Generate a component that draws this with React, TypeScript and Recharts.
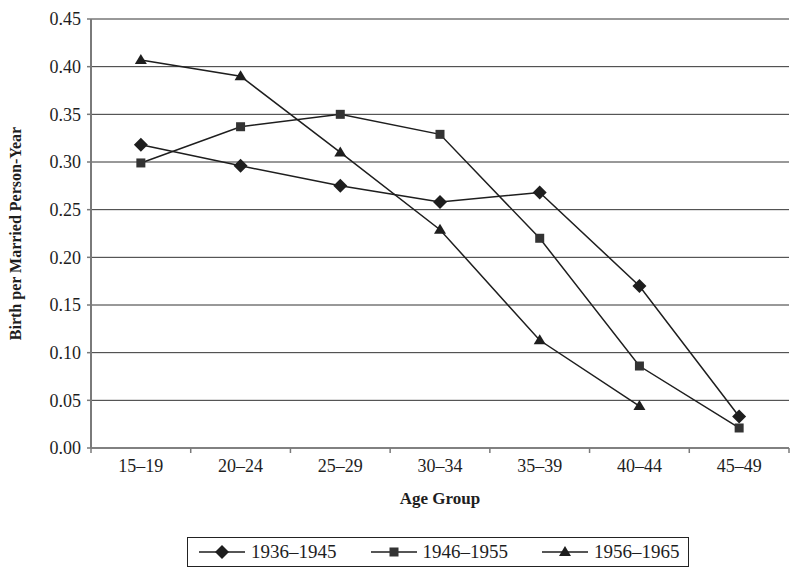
import React from "react";
import { LineChart, Line, XAxis, YAxis, CartesianGrid } from "recharts";

const ageGroups = ["15–19", "20–24", "25–29", "30–34", "35–39", "40–44", "45–49"];
const cohort1936 = [0.318, 0.296, 0.275, 0.258, 0.268, 0.17, 0.033];
const cohort1946 = [0.299, 0.337, 0.35, 0.329, 0.22, 0.086, 0.021];
const cohort1956 = [0.407, 0.39, 0.31, 0.229, 0.113, 0.044, null];
const yTicks = [0, 0.05, 0.1, 0.15, 0.2, 0.25, 0.3, 0.35, 0.4, 0.45];

const data = ageGroups.map((age, i) => ({
  age,
  c1936: cohort1936[i],
  c1946: cohort1946[i],
  c1956: cohort1956[i],
}));

const FONT = "'Liberation Serif', 'DejaVu Serif', serif";
const INK = "#1e1e1e";
const AXIS = "#7a7a7a";

const Diamond = (props: any) => {
  const { cx, cy, index } = props;
  if (cx == null || cy == null) return <g key={index} />;
  const r = 7;
  return (
    <path
      key={index}
      d={`M${cx},${cy - r} L${cx + r},${cy} L${cx},${cy + r} L${cx - r},${cy} Z`}
      fill={INK}
    />
  );
};

const Square = (props: any) => {
  const { cx, cy, index } = props;
  if (cx == null || cy == null) return <g key={index} />;
  const s = 9;
  return <rect key={index} x={cx - s / 2} y={cy - s / 2} width={s} height={s} fill="#333" />;
};

const Triangle = (props: any) => {
  const { cx, cy, index } = props;
  if (cx == null || cy == null) return <g key={index} />;
  return (
    <path
      key={index}
      d={`M${cx},${cy - 6} L${cx + 6},${cy + 4} L${cx - 6},${cy + 4} Z`}
      fill={INK}
    />
  );
};

const CHART_W = 800;
const PLOT_LEFT = 91;
const PLOT_RIGHT = 11;
const band = (CHART_W - PLOT_LEFT - PLOT_RIGHT) / ageGroups.length;

const AgeTick = (props: any) => {
  const { x, y, payload, index } = props;
  const last = index === ageGroups.length - 1;
  return (
    <g>
      <line x1={x - band / 2} y1={y} x2={x - band / 2} y2={y + 5} stroke={AXIS} strokeWidth={1.5} />
      {last && (
        <line x1={x + band / 2} y1={y} x2={x + band / 2} y2={y + 5} stroke={AXIS} strokeWidth={1.5} />
      )}
      <text x={x} y={y + 24} textAnchor="middle" fontSize={18} fill={INK} fontFamily={FONT}>
        {payload.value}
      </text>
    </g>
  );
};

const legendItems = [
  { name: "1936–1945", Icon: Diamond },
  { name: "1946–1955", Icon: Square },
  { name: "1956–1965", Icon: Triangle },
];

export default function App() {
  return (
    <div style={{ position: "absolute", left: 0, top: 0, width: 800, height: 578, background: "#fff" }}>
      <LineChart
        width={CHART_W}
        height={578}
        data={data}
        margin={{ top: 19, right: PLOT_RIGHT, left: 0, bottom: 70 }}
      >
        <CartesianGrid vertical={false} stroke="#333" strokeWidth={1} />
        <XAxis
          dataKey="age"
          scale="band"
          tick={<AgeTick />}
          tickLine={false}
          tickSize={0}
          tickMargin={0}
          height={60}
          axisLine={{ stroke: AXIS, strokeWidth: 1.5 }}
          interval={0}
          label={{
            value: "Age Group",
            position: "insideBottom",
            offset: 4,
            style: { fontFamily: FONT, fontWeight: 700, fontSize: 17, fill: INK },
          }}
        />
        <YAxis
          width={PLOT_LEFT}
          domain={[0, 0.45]}
          ticks={yTicks}
          tickFormatter={(v: number) => v.toFixed(2)}
          tick={{ fontFamily: FONT, fontSize: 18, fill: INK }}
          tickSize={4}
          tickMargin={6}
          tickLine={{ stroke: AXIS, strokeWidth: 1.5 }}
          axisLine={{ stroke: AXIS, strokeWidth: 2 }}
          interval={0}
          label={{
            content: ({ viewBox }: any) => {
              const lx = viewBox.x + 21;
              const ly = viewBox.y + viewBox.height / 2;
              return (
                <text
                  x={lx}
                  y={ly}
                  transform={`rotate(-90 ${lx} ${ly})`}
                  textAnchor="middle"
                  fontFamily={FONT}
                  fontWeight={700}
                  fontSize={16}
                  fill={INK}
                >
                  Birth per Married Person-Year
                </text>
              );
            },
          }}
        />
        <YAxis
          yAxisId="frame"
          orientation="right"
          width={0}
          tick={false}
          tickLine={false}
          axisLine={{ stroke: AXIS, strokeWidth: 1.5 }}
        />
        <Line
          dataKey="c1936"
          name="1936–1945"
          stroke={INK}
          strokeWidth={1.5}
          dot={<Diamond />}
          activeDot={false}
          isAnimationActive={false}
        />
        <Line
          dataKey="c1946"
          name="1946–1955"
          stroke={INK}
          strokeWidth={1.5}
          dot={<Square />}
          activeDot={false}
          isAnimationActive={false}
        />
        <Line
          dataKey="c1956"
          name="1956–1965"
          stroke={INK}
          strokeWidth={1.5}
          dot={<Triangle />}
          activeDot={false}
          connectNulls={false}
          isAnimationActive={false}
        />
      </LineChart>
      <div
        style={{
          position: "absolute",
          left: 187,
          top: 537,
          width: 500,
          height: 28,
          paddingLeft: 0,
          border: "1px solid #222",
          display: "flex",
          alignItems: "center",
          fontFamily: FONT,
          fontSize: 19,
          color: INK,
          boxSizing: "content-box",
        }}
      >
        {legendItems.map(({ name, Icon }) => (
          <div key={name} style={{ display: "flex", alignItems: "center", marginLeft: name === "1936–1945" ? 11 : 34 }}>
            <svg width={46} height={20} style={{ marginRight: 6 }}>
              <line x1={0} y1={10} x2={46} y2={10} stroke={INK} strokeWidth={1.5} />
              <Icon cx={23} cy={10} index={0} />
            </svg>
            <span>{name}</span>
          </div>
        ))}
      </div>
    </div>
  );
}
